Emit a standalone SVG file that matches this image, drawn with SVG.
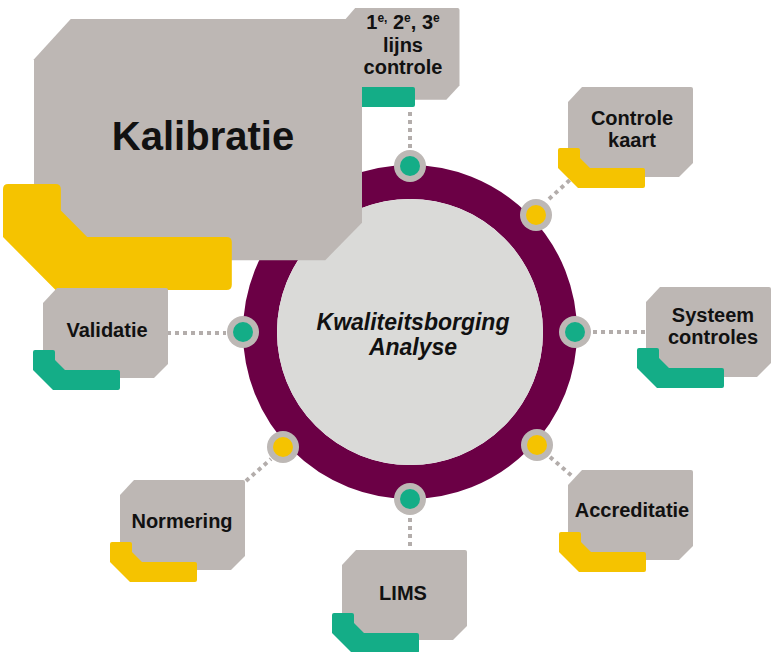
<svg xmlns="http://www.w3.org/2000/svg" xmlns:xlink="http://www.w3.org/1999/xlink" width="771" height="652" viewBox="0 0 771 652">
<style>
.box{fill:#bdb7b4}
.yel{fill:#f5c300}
.grn{fill:#14ad87}
.lbl{font-family:"Liberation Sans",Arial,sans-serif;font-weight:bold;font-size:20px;fill:#111;text-anchor:middle}
.conn{stroke:#b3adab;stroke-width:4;stroke-dasharray:4 4;fill:none}
.dot{fill:#bdb8b5}
</style>
<defs>
<path id="boxShape" d="M14,0 L123,0 Q125,0 125,2 L125,76 L111,90 L2,90 Q0,90 0,88 L0,15 Z"/>
<path id="brShape" d="M0,2 Q0,0 2,0 L20,0 Q22,0 22,2 L22,10 L32,20 L85,20 Q87,20 87,22 L87,38 Q87,40 85,40 L20,40 L0,20 Z"/>
</defs>
<rect width="771" height="652" fill="#ffffff"/>

<g id="center">
<circle cx="410" cy="332" r="150" fill="none" stroke="#6b0045" stroke-width="34"/>
<circle cx="410" cy="332" r="133" fill="#dadad8"/>
<text x="413" y="330" class="lbl" style="font-size:23px;font-style:italic">Kwaliteitsborging</text>
<text x="413" y="355" class="lbl" style="font-size:23px;font-style:italic">Analyse</text>
</g>

<g id="connectors">
<line class="conn" x1="410" y1="112" x2="410" y2="148"/>
<line class="conn" x1="549" y1="199" x2="572" y2="178"/>
<line class="conn" x1="593" y1="332" x2="648" y2="332"/>
<line class="conn" x1="550" y1="457" x2="572" y2="476"/>
<line class="conn" x1="410" y1="518" x2="410" y2="550"/>
<line class="conn" x1="246" y1="481" x2="271" y2="459"/>
<line class="conn" x1="167" y1="333" x2="226" y2="333"/>
</g>

<g id="dots">
<circle class="dot" cx="410" cy="166" r="16"/><circle class="grn" cx="410" cy="166" r="10"/>
<circle class="dot" cx="536" cy="215" r="16"/><circle class="yel" cx="536" cy="215" r="10"/>
<circle class="dot" cx="575" cy="332" r="16"/><circle class="grn" cx="575" cy="332" r="10"/>
<circle class="dot" cx="537" cy="445" r="16"/><circle class="yel" cx="537" cy="445" r="10"/>
<circle class="dot" cx="410" cy="499" r="16"/><circle class="grn" cx="410" cy="499" r="10"/>
<circle class="dot" cx="283" cy="447" r="16"/><circle class="yel" cx="283" cy="447" r="10"/>
<circle class="dot" cx="243" cy="332" r="16"/><circle class="grn" cx="243" cy="332" r="10"/>
</g>

<g id="lijns">
<use xlink:href="#boxShape" class="box" transform="translate(342,8) scale(0.94,1.02)"/>
<use xlink:href="#brShape" class="grn" transform="translate(328,67)"/>
<text class="lbl" x="403" y="29">1<tspan dy="-7" font-size="12">e,</tspan><tspan dy="7"> 2</tspan><tspan dy="-7" font-size="12">e</tspan><tspan dy="7">, 3</tspan><tspan dy="-7" font-size="12">e</tspan></text>
<text class="lbl" x="403" y="52">lijns</text>
<text class="lbl" x="403" y="74">controle</text>
</g>

<g id="kalibratie">
<use xlink:href="#boxShape" class="box" transform="translate(34,19) scale(2.624,2.68)"/>
<use xlink:href="#brShape" class="yel" transform="translate(3,184) scale(2.63,2.65)"/>
<text class="lbl" x="203" y="150" style="font-size:40px">Kalibratie</text>
</g>

<g id="controle-kaart">
<use xlink:href="#boxShape" class="box" transform="translate(568,87)"/>
<use xlink:href="#brShape" class="yel" transform="translate(558,148)"/>
<text class="lbl" x="632" y="125">Controle</text>
<text class="lbl" x="632" y="147">kaart</text>
</g>

<g id="systeem-controles">
<use xlink:href="#boxShape" class="box" transform="translate(646,287)"/>
<use xlink:href="#brShape" class="grn" transform="translate(637,348)"/>
<text class="lbl" x="713" y="322">Systeem</text>
<text class="lbl" x="713" y="344">controles</text>
</g>

<g id="validatie">
<use xlink:href="#boxShape" class="box" transform="translate(43,288)"/>
<use xlink:href="#brShape" class="grn" transform="translate(33,350)"/>
<text class="lbl" x="107" y="337">Validatie</text>
</g>

<g id="normering">
<use xlink:href="#boxShape" class="box" transform="translate(120,480)"/>
<use xlink:href="#brShape" class="yel" transform="translate(110,542)"/>
<text class="lbl" x="182" y="528">Normering</text>
</g>

<g id="lims">
<use xlink:href="#boxShape" class="box" transform="translate(342,550)"/>
<use xlink:href="#brShape" class="grn" transform="translate(332,613)"/>
<text class="lbl" x="403" y="600">LIMS</text>
</g>

<g id="accreditatie">
<use xlink:href="#boxShape" class="box" transform="translate(568,470)"/>
<use xlink:href="#brShape" class="yel" transform="translate(559,532)"/>
<text class="lbl" x="632" y="517">Accreditatie</text>
</g>
</svg>
